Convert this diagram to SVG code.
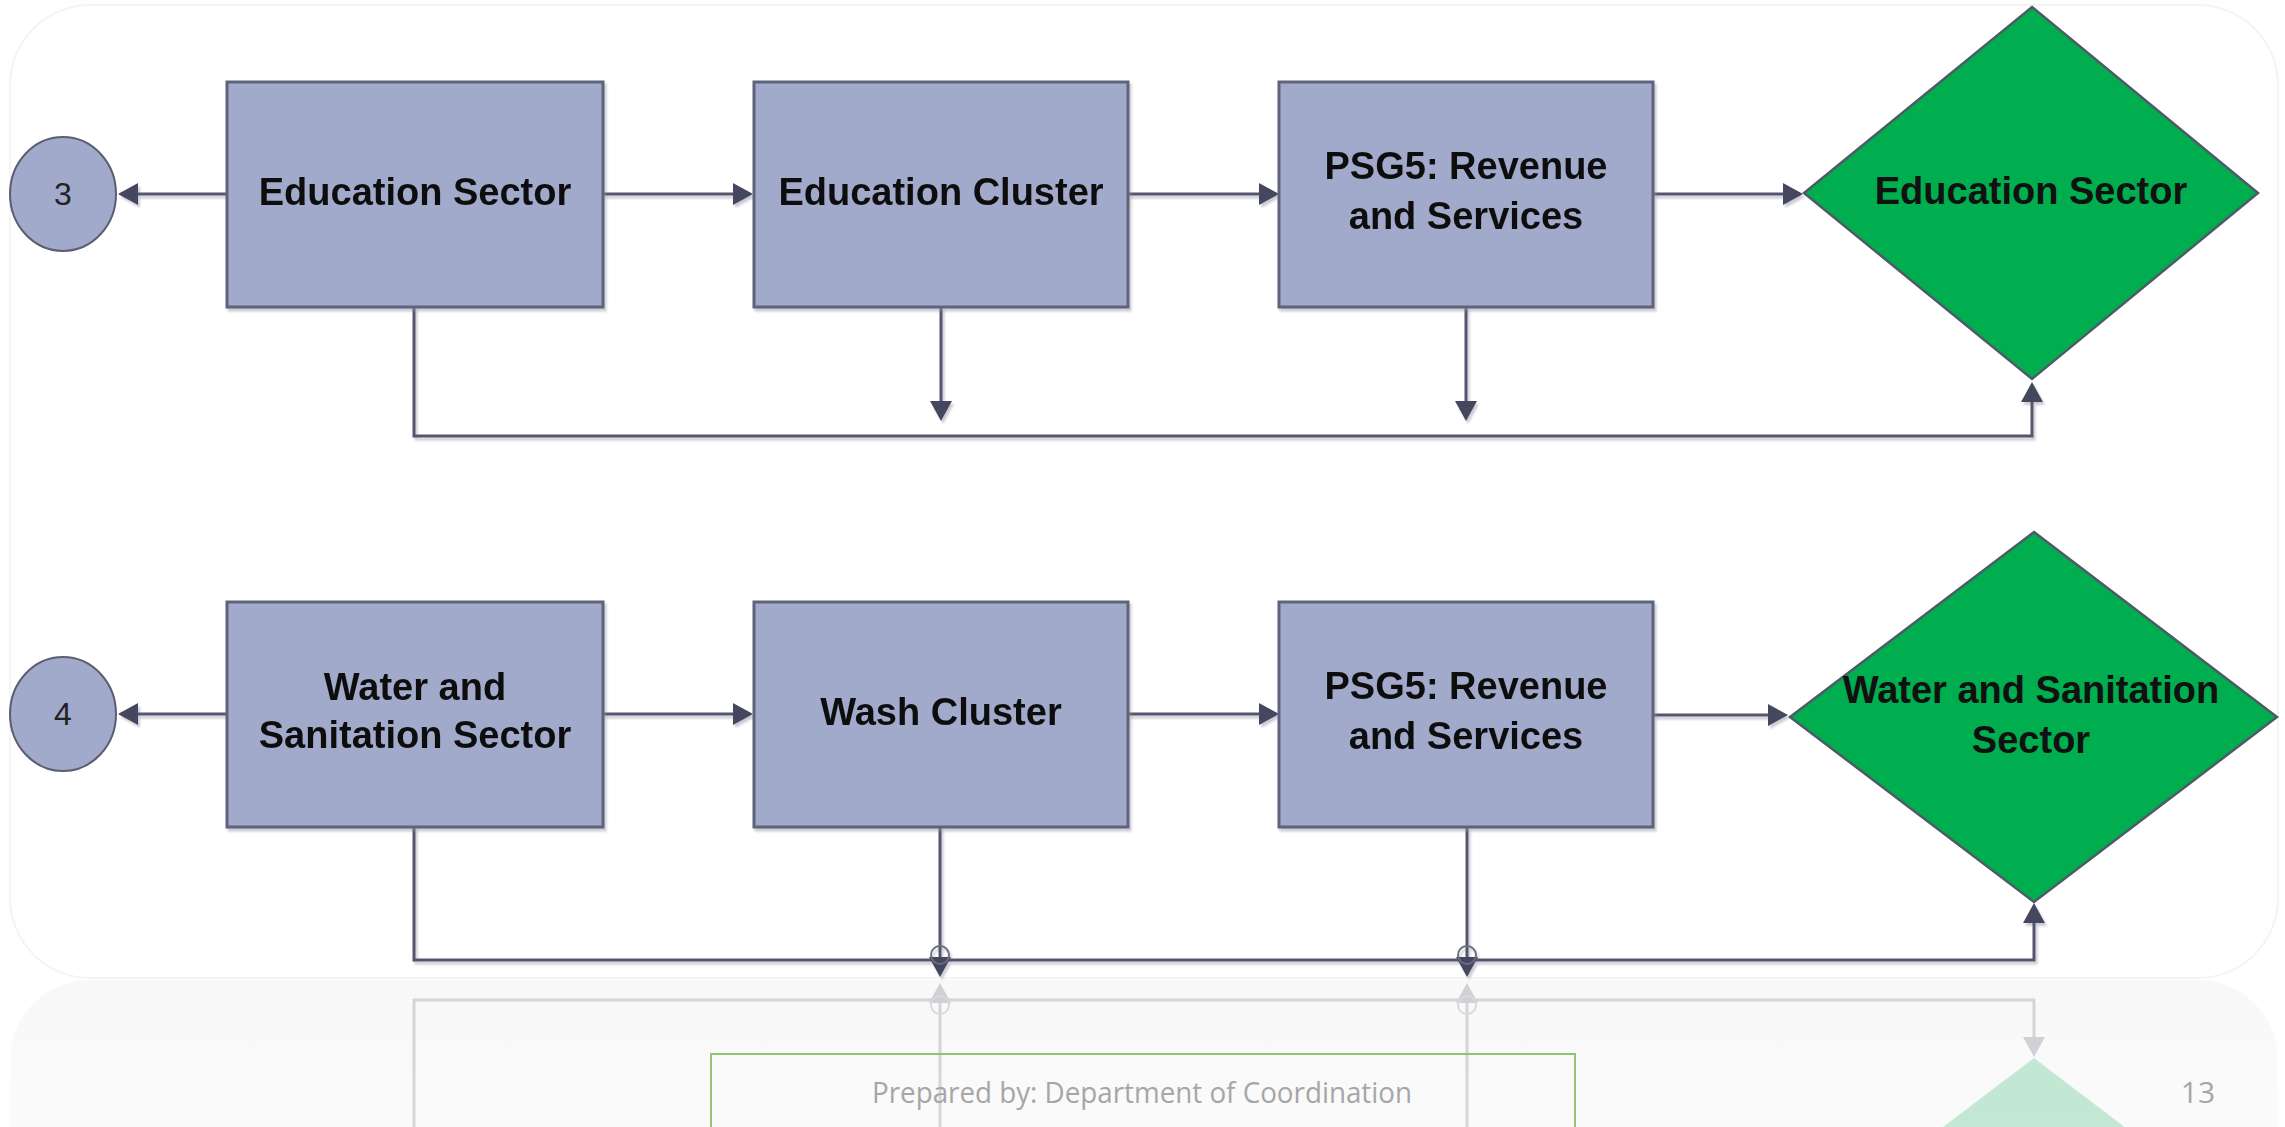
<svg xmlns="http://www.w3.org/2000/svg" width="2285" height="1127" viewBox="0 0 2285 1127">
<defs>
  <style>
    .box{fill:#a2aacb;stroke:#60637b;stroke-width:3}
    .circ{fill:#a2aacb;stroke:#5b5e72;stroke-width:2}
    .dia{fill:#00ad4f;stroke:#4e5a66;stroke-width:2.5}
    .lbl{font-family:"Liberation Sans",Arial,sans-serif;font-weight:bold;font-size:38px;fill:#111;text-anchor:middle}
    .num{font-family:"Liberation Sans",Arial,sans-serif;font-size:32px;fill:#222;text-anchor:middle}
    .ln{fill:none;stroke:#55576e;stroke-width:3}
    .arr{marker-end:url(#ah)}
    .jump{fill:none;stroke:#6a6c80;stroke-width:2}
    .foot{font-family:"Open Sans","Liberation Sans",sans-serif;font-size:30px;fill:#a6a6a6}
  </style>
  <marker id="ah" markerWidth="20" markerHeight="22" refX="17" refY="11" orient="auto" markerUnits="userSpaceOnUse">
    <path d="M0,0 L20,11 L0,22 z" fill="#45475e"/>
  </marker>
  <marker id="ahr" markerWidth="20" markerHeight="22" refX="17" refY="11" orient="auto" markerUnits="userSpaceOnUse">
    <path d="M0,0 L20,11 L0,22 z" fill="#45475e"/>
  </marker>
  <filter id="sh" x="-5%" y="-5%" width="115%" height="120%">
    <feDropShadow dx="2" dy="3" stdDeviation="0.8" flood-color="#8c8ca0" flood-opacity="0.45"/>
  </filter>
  <linearGradient id="refl" x1="0" y1="0" x2="0" y2="1">
    <stop offset="0" stop-color="#f8f8f8"/>
    <stop offset="1" stop-color="#fdfdfd"/>
  </linearGradient>
</defs>

<!-- slide background -->
<rect x="0" y="0" width="2285" height="1127" fill="#ffffff"/>
<rect x="10" y="5" width="2268" height="973" rx="80" fill="#ffffff" stroke="#f4f4f4" stroke-width="2"/>
<rect x="10" y="980" width="2268" height="300" rx="80" fill="url(#refl)"/>

<!-- reflection of lower row (faint) -->
<g id="reflection" opacity="0.22">
  <polygon points="2034,1058 2277,1243 2034,1428 1790,1243" fill="#00ad4f"/>
  <path class="ln" d="M414,1127 V1000 H2034 V1054" style="marker-end:url(#ahr)"/>
  <path class="ln" d="M940,1127 V986" style="marker-end:url(#ahr)"/>
  <path class="ln" d="M1467,1127 V986" style="marker-end:url(#ahr)"/>
  <circle class="jump" cx="940" cy="1005" r="9"/>
  <circle class="jump" cx="1467" cy="1005" r="9"/>
</g>

<!-- connectors -->
<g id="connectors" filter="url(#sh)">
  <!-- row 1 -->
  <path class="ln arr" d="M227,194 H121"/>
  <path class="ln arr" d="M603,194 H750"/>
  <path class="ln arr" d="M1128,194 H1276"/>
  <path class="ln arr" d="M1653,194 H1800"/>
  <path class="ln arr" d="M414,307 V436 H2032 V385"/>
  <path class="ln arr" d="M941,307 V418"/>
  <path class="ln arr" d="M1466,307 V418"/>
  <!-- row 2 -->
  <path class="ln arr" d="M227,714 H121"/>
  <path class="ln arr" d="M603,714 H750"/>
  <path class="ln arr" d="M1128,714 H1276"/>
  <path class="ln arr" d="M1653,715 H1785"/>
  <path class="ln arr" d="M414,827 V960 H2034 V906"/>
  <path class="ln arr" d="M940,827 V974"/>
  <path class="ln arr" d="M1467,827 V974"/>
  <circle class="jump" cx="940" cy="955" r="9"/>
  <circle class="jump" cx="1467" cy="955" r="9"/>
</g>

<!-- row 1 nodes -->
<g id="c3">
  <ellipse class="circ" cx="63" cy="194" rx="53" ry="57"/>
  <text class="num" x="63" y="205">3</text>
</g>
<g id="n-edu-sector" filter="url(#sh)">
  <rect class="box" x="227" y="82" width="376" height="225"/>
  <text class="lbl" x="415" y="205">Education Sector</text>
</g>
<g id="n-edu-cluster" filter="url(#sh)">
  <rect class="box" x="754" y="82" width="374" height="225"/>
  <text class="lbl" x="941" y="205">Education Cluster</text>
</g>
<g id="n-psg5-1" filter="url(#sh)">
  <rect class="box" x="1279" y="82" width="374" height="225"/>
  <text class="lbl" x="1466" y="179">PSG5: Revenue</text>
  <text class="lbl" x="1466" y="229">and Services</text>
</g>
<g id="d-edu-sector">
  <polygon class="dia" points="2032,7 2258,193 2032,379 1804,193"/>
  <text class="lbl" x="2031" y="204">Education Sector</text>
</g>

<!-- row 2 nodes -->
<g id="c4">
  <ellipse class="circ" cx="63" cy="714" rx="53" ry="57"/>
  <text class="num" x="63" y="725">4</text>
</g>
<g id="n-water" filter="url(#sh)">
  <rect class="box" x="227" y="602" width="376" height="225"/>
  <text class="lbl" x="415" y="700">Water and</text>
  <text class="lbl" x="415" y="748">Sanitation Sector</text>
</g>
<g id="n-wash" filter="url(#sh)">
  <rect class="box" x="754" y="602" width="374" height="225"/>
  <text class="lbl" x="941" y="725">Wash Cluster</text>
</g>
<g id="n-psg5-2" filter="url(#sh)">
  <rect class="box" x="1279" y="602" width="374" height="225"/>
  <text class="lbl" x="1466" y="699">PSG5: Revenue</text>
  <text class="lbl" x="1466" y="749">and Services</text>
</g>
<g id="d-water">
  <polygon class="dia" points="2034,532 2277,717 2034,902 1790,717"/>
  <text class="lbl" x="2031" y="703">Water and Sanitation</text>
  <text class="lbl" x="2031" y="753">Sector</text>
</g>

<!-- footer -->
<g id="footer">
  <rect x="711" y="1054" width="864" height="90" fill="none" stroke="#8fc575" stroke-width="2"/>
  <text class="foot" x="872" y="1103" textLength="540" lengthAdjust="spacingAndGlyphs">Prepared by: Department of Coordination</text>
  <text class="foot" x="2198" y="1103" text-anchor="middle">13</text>
</g>
</svg>
